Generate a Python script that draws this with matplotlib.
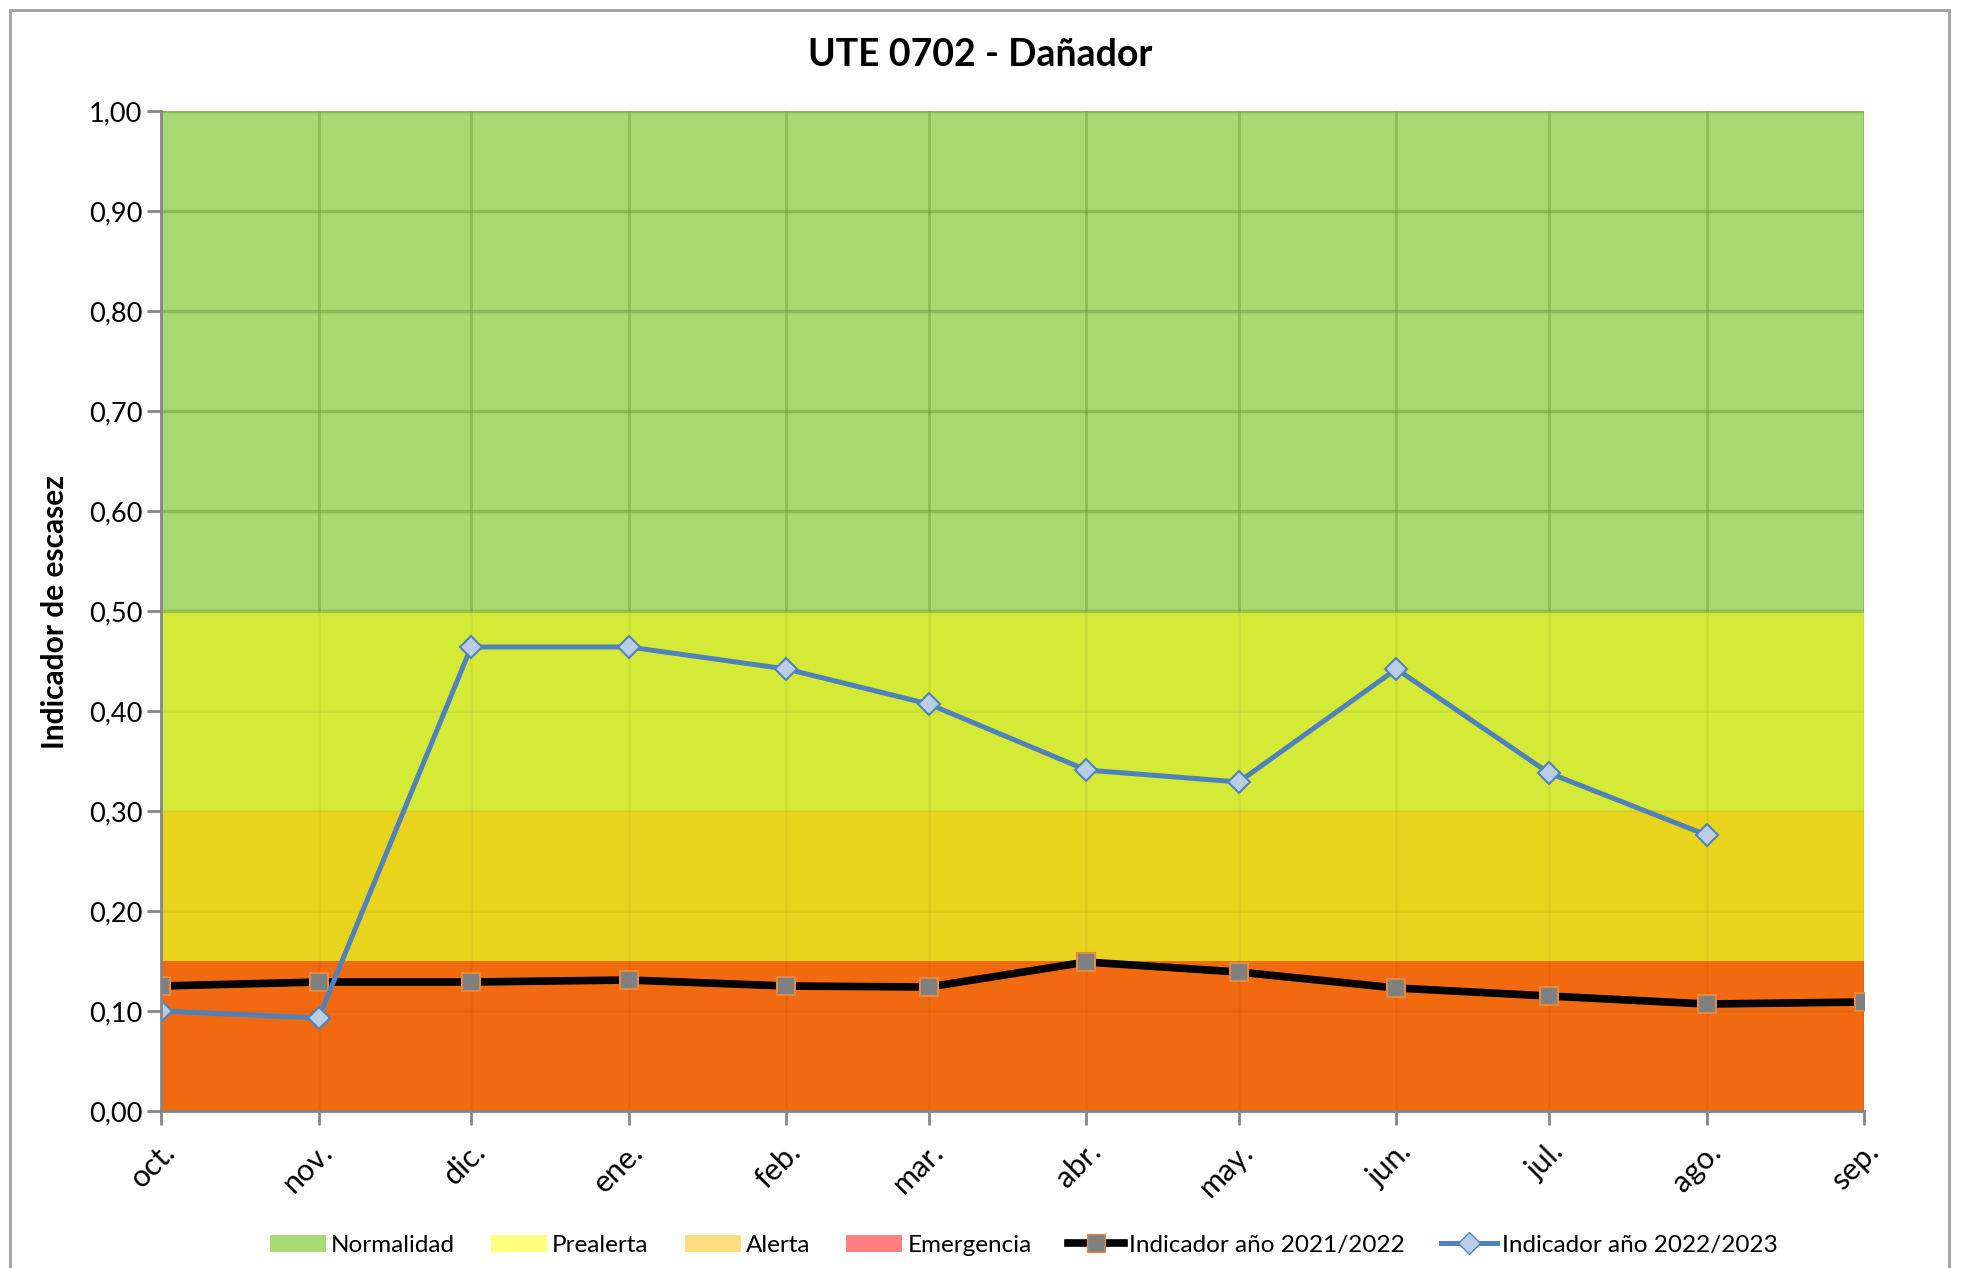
from datetime import datetime

import matplotlib
matplotlib.use("Agg")
import matplotlib.pyplot as plt
import matplotlib.dates as mdates
from matplotlib.patches import Patch, Rectangle
from matplotlib.lines import Line2D


plt.rcParams["font.family"] = ["Lato", "DejaVu Sans"]

# data
monthDates = [
    datetime(2022, 10, 1), datetime(2022, 11, 1), datetime(2022, 12, 1),
    datetime(2023, 1, 1), datetime(2023, 2, 1), datetime(2023, 3, 1),
    datetime(2023, 4, 1), datetime(2023, 5, 1), datetime(2023, 6, 1),
    datetime(2023, 7, 1), datetime(2023, 8, 1), datetime(2023, 9, 1),
]
monthLabels = ["oct.", "nov.", "dic.", "ene.", "feb.", "mar.",
               "abr.", "may.", "jun.", "jul.", "ago.", "sep."]

indicator2122 = [0.125, 0.129, 0.129, 0.131, 0.125, 0.124,
                 0.149, 0.139, 0.123, 0.115, 0.107, 0.109]
indicator2223 = [0.100, 0.093, 0.464, 0.464, 0.442, 0.407,
                 0.341, 0.329, 0.442, 0.338, 0.276]

zoneNames = ["Normalidad", "Prealerta", "Alerta", "Emergencia"]
zoneLimits = [(0.50, 1.00), (0.30, 0.50), (0.15, 0.30), (0.00, 0.15)]
zoneColors = ["#A7D972", "#D4EA37", "#E8D41D", "#F26A10"]
legendColors = ["#A9DA74", "#FFFF80", "#FFDD80", "#FF8080"]

yTicks = [i / 10 for i in range(11)]


fig = plt.figure(figsize=(19.61, 12.68), dpi=100)
ax = fig.add_axes([0.0821, 0.1238, 0.8685, 0.7887])

for (low, high), color in zip(zoneLimits, zoneColors):
    ax.axhspan(low, high, color=color, zorder=0, lw=0)

ax.set_xlim(monthDates[0], monthDates[-1])
ax.set_ylim(0, 1)

ax.set_yticks(yTicks)
ax.set_yticklabels([f"{v:.2f}".replace(".", ",") for v in yTicks])
ax.set_xticks(mdates.date2num(monthDates))
ax.set_xticklabels(monthLabels, rotation=45, ha="right", rotation_mode="anchor",
                   fontsize=22)

# faint grid everywhere, stronger green grid in the "Normalidad" band
ax.grid(True, color="black", alpha=0.04, lw=2, zorder=1)
greenLow, greenHigh = zoneLimits[0]
ax.vlines(monthDates, greenLow, greenHigh, color="#6FA845", alpha=0.4, lw=2, zorder=1)
ax.hlines([t for t in yTicks if t >= greenLow], monthDates[0], monthDates[-1],
          color="#6FA845", alpha=0.45, lw=2.5, zorder=1)

ax.plot(monthDates, indicator2122, color="black", lw=5.5,
        marker="s", markersize=13, markerfacecolor="#808080",
        markeredgecolor="#E38A43", markeredgewidth=1.5, zorder=3)
ax.plot(monthDates[:len(indicator2223)], indicator2223, color="#4F81BD", lw=3.6,
        marker="D", markersize=11, markerfacecolor="#B9CDE5",
        markeredgecolor="#4F81BD", markeredgewidth=1.5, zorder=4)

for side in ["top", "right"]:
    ax.spines[side].set_visible(False)
for side in ["left", "bottom"]:
    ax.spines[side].set_color("#868686")
    ax.spines[side].set_linewidth(2)
    ax.spines[side].set_zorder(5)

ax.tick_params(axis="both", colors="#868686", width=2, length=10,
               labelcolor="black")
ax.tick_params(axis="y", labelsize=19.5)
ax.tick_params(axis="x", pad=9)

fig.text(0.5, 0.957, "UTE 0702 - Dañador", ha="center", va="center",
         fontsize=27, fontweight="bold")
fig.text(0.028, 0.517, "Indicador de escasez", ha="center", va="center",
         rotation=90, fontsize=21.5, fontweight="bold")

handles = [Patch(facecolor=c, edgecolor="none") for c in legendColors]
handles.append(Line2D([0], [0], color="black", lw=5.5, marker="s", markersize=13,
                      markerfacecolor="#808080", markeredgecolor="#E38A43"))
handles.append(Line2D([0], [0], color="#4F81BD", lw=3.6, marker="D", markersize=11,
                      markerfacecolor="#B9CDE5", markeredgecolor="#4F81BD"))
labels = zoneNames + ["Indicador año 2021/2022", "Indicador año 2022/2023"]
fig.legend(handles, labels, loc="center", bbox_to_anchor=(0.522, 0.018),
           ncol=6, frameon=False, fontsize=17.5, handlelength=2.3,
           handletextpad=0.2, columnspacing=1.5)

fig.patches.append(Rectangle((0.005, -0.01), 0.989, 1.002, transform=fig.transFigure,
                             fill=False, edgecolor="#A0A0A0", lw=2))

plt.savefig("out.png", dpi=100)
plt.close()
